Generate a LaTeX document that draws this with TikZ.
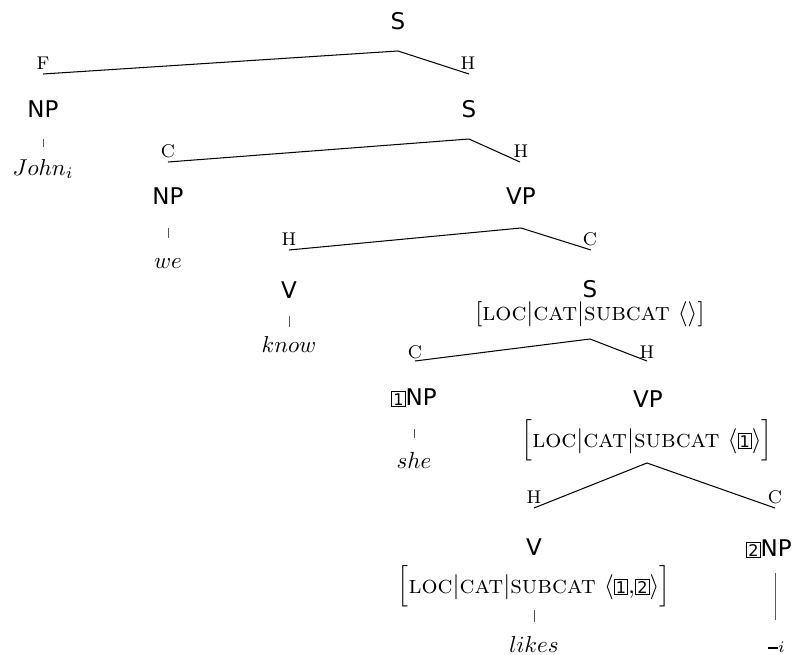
\documentclass[tikz,border=0pt]{standalone}
\usepackage{fontspec}
\newfontfamily\catfont{DejaVu Sans}
\newcommand{\tg}[1]{{\setlength{\fboxsep}{0.5pt}\setlength{\fboxrule}{0.4pt}\fbox{\catfont\fontsize{7}{8}\selectfont #1}}}
\tikzset{
  cat/.style={font=\catfont, anchor=base, inner sep=0pt},
  word/.style={anchor=base, inner sep=0pt},
  avm/.style={anchor=base, inner sep=0pt, font=\fontsize{11}{13}\selectfont},
  elab/.style={font=\footnotesize, anchor=base, inner sep=0pt},
  branch/.style={line width=0.45pt},
  tickline/.style={line width=0.4pt, draw=black!65},
}
\begin{document}
\begin{tikzpicture}[x=0.4348pt, y=-0.4348pt]
\useasboundingbox (0,0) rectangle (802,655);
% level 0
\node[cat] (s0) at (398,29) {S};
\coordinate (a0) at (398,51);
\coordinate (e0l) at (43,74);
\coordinate (e0r) at (469,74);
\draw[branch] (e0l) -- (a0) -- (e0r);
\node[elab] (lf) at (43,69) {F};
\node[elab] (lh0) at (468,69) {H};
% NP John
\node[cat] (np1) at (43,117) {NP};
\coordinate (t1a) at (43,139);
\coordinate (t1b) at (43,147);
\draw[tickline] (t1a) -- (t1b);
\node[word] (john) at (43,175) {$John_i$};
% S 2
\node[cat] (s1) at (469,117) {S};
\coordinate (a1) at (469,139);
\coordinate (e1l) at (168,162);
\coordinate (e1r) at (520,162);
\draw[branch] (e1l) -- (a1) -- (e1r);
\node[elab] (lc1) at (168,157) {C};
\node[elab] (lh1) at (521,157) {H};
% NP we
\node[cat] (np2) at (168,204) {NP};
\coordinate (t2a) at (168,228);
\coordinate (t2b) at (168,238);
\draw[tickline] (t2a) -- (t2b);
\node[word] (we) at (168,268) {$we$};
% VP 1
\node[cat] (vp1) at (521,204) {VP};
\coordinate (a2) at (521,228);
\coordinate (e2l) at (289,250);
\coordinate (e2r) at (591,250);
\draw[branch] (e2l) -- (a2) -- (e2r);
\node[elab] (lh2) at (289,245) {H};
\node[elab] (lc2) at (590,245) {C};
% V know
\node[cat] (v1) at (289,298) {V};
\coordinate (t3a) at (289,316);
\coordinate (t3b) at (289,327);
\draw[tickline] (t3a) -- (t3b);
\node[word] (know) at (289,352) {$know$};
% S with AVM
\node[cat] (s2) at (590,297) {S};
\node[avm] (avm1) at (590,320) {$\bigl[\textsc{loc}\big|\textsc{cat}\big|\textsc{subcat}\ \langle\rangle\bigr]$};
\coordinate (a3) at (590,339);
\coordinate (e3l) at (415,361);
\coordinate (e3r) at (647,361);
\draw[branch] (e3l) -- (a3) -- (e3r);
\node[elab] (lc3) at (415,358) {C};
\node[elab] (lh3) at (647,358) {H};
% 1NP she
\node[cat] (np3) at (414,405) {\tg{1}NP};
\coordinate (t4a) at (414,429);
\coordinate (t4b) at (414,438);
\draw[tickline] (t4a) -- (t4b);
\node[word] (she) at (414,468) {$she$};
% VP 2
\node[cat] (vp2) at (648,407) {VP};
\node[avm] (avm2) at (647,447) {$\Bigl[\textsc{loc}\big|\textsc{cat}\big|\textsc{subcat}\ \bigl\langle\tg{1}\bigr\rangle\Bigr]$};
\coordinate (a4) at (647,463);
\coordinate (e4l) at (534,508);
\coordinate (e4r) at (775,508);
\draw[branch] (e4l) -- (a4) -- (e4r);
\node[elab] (lh4) at (534,503) {H};
\node[elab] (lc4) at (775,503) {C};
% V likes
\node[cat] (v2) at (534,555) {V};
\node[avm] (avm3) at (534,593) {$\Bigl[\textsc{loc}\big|\textsc{cat}\big|\textsc{subcat}\ \bigl\langle\tg{1}{,}\tg{2}\bigr\rangle\Bigr]$};
\coordinate (t5a) at (534,610);
\coordinate (t5b) at (534,622);
\draw[tickline] (t5a) -- (t5b);
\node[word] (likes) at (534,652) {$likes$};
% 2NP trace
\node[cat] (np4) at (769,556) {\tg{2}NP};
\coordinate (t6a) at (775,573);
\coordinate (t6b) at (775,620);
\draw[tickline] (t6a) -- (t6b);
\node[word] (trace) at (777,649) {\rule{4.3pt}{0.9pt}$_i$};
\end{tikzpicture}
\end{document}
